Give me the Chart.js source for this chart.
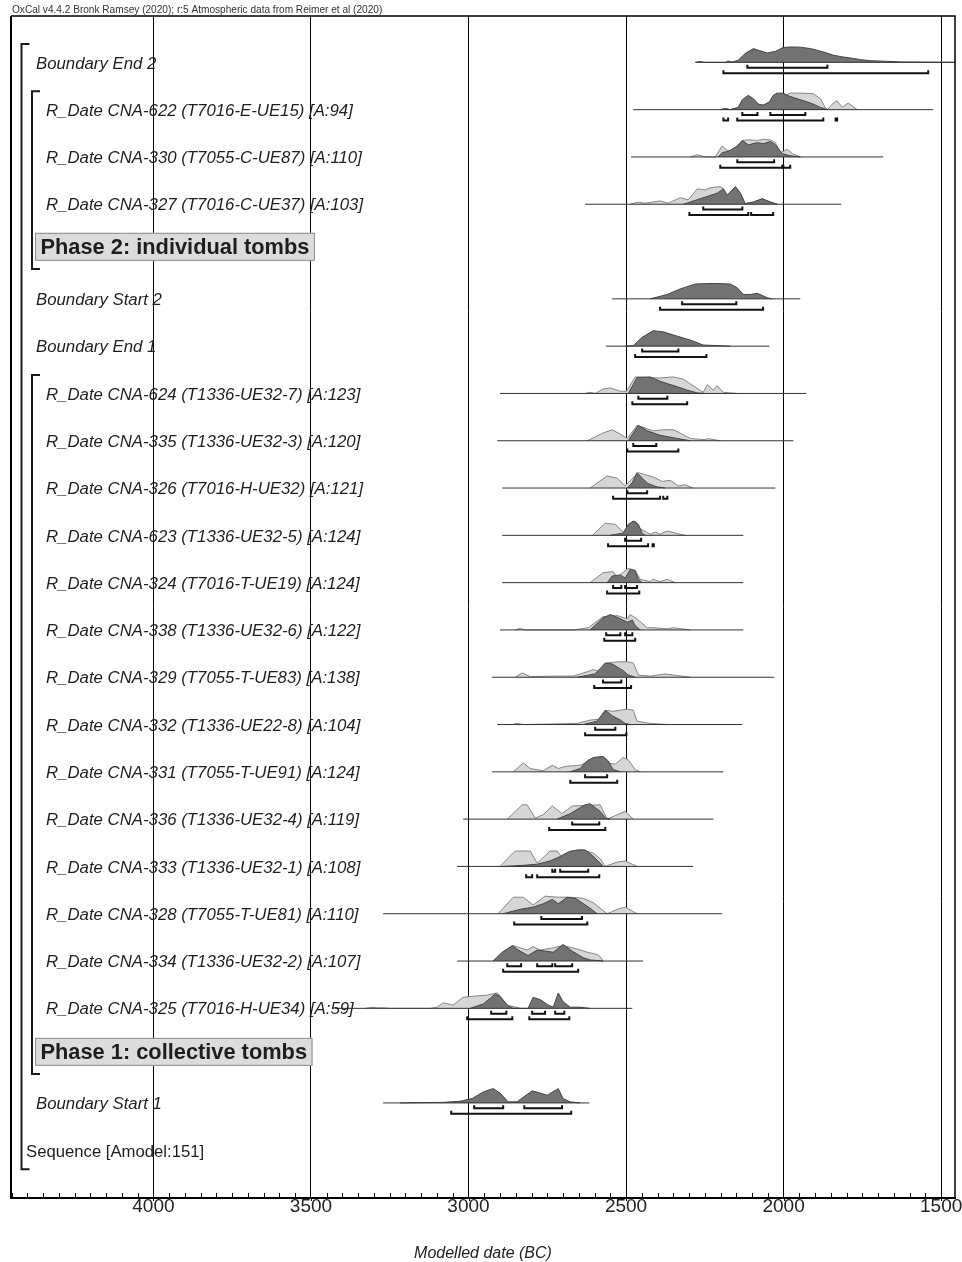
<!DOCTYPE html>
<html>
<head>
<meta charset="utf-8">
<script src="https://cdn.jsdelivr.net/npm/chart.js@4.4.1/dist/chart.umd.min.js"></script>
<style>
html,body{margin:0;padding:0;background:#fff;}
canvas{display:block;}
</style>
</head>
<body>
<canvas id="c" width="962" height="1262" style="width:962px;height:1262px"></canvas>
<script>
// ---------------- DATA ----------------
const headerText = 'OxCal v4.4.2 Bronk Ramsey (2020); r:5 Atmospheric data from Reimer et al (2020)';
const axisTitle = 'Modelled date (BC)';
const tickYears = [4000, 3500, 3000, 2500, 2000, 1500];
const axisRange = [1456, 4452];

const rowNames = [
  'Boundary End 2',
  'R_Date CNA-622 (T7016-E-UE15) [A:94]',
  'R_Date CNA-330 (T7055-C-UE87) [A:110]',
  'R_Date CNA-327 (T7016-C-UE37) [A:103]',
  'Phase 2: individual tombs',
  'Boundary Start 2',
  'Boundary End 1',
  'R_Date CNA-624 (T1336-UE32-7) [A:123]',
  'R_Date CNA-335 (T1336-UE32-3) [A:120]',
  'R_Date CNA-326 (T7016-H-UE32) [A:121]',
  'R_Date CNA-623 (T1336-UE32-5) [A:124]',
  'R_Date CNA-324 (T7016-T-UE19) [A:124]',
  'R_Date CNA-338 (T1336-UE32-6) [A:122]',
  'R_Date CNA-329 (T7055-T-UE83) [A:138]',
  'R_Date CNA-332 (T1336-UE22-8) [A:104]',
  'R_Date CNA-331 (T7055-T-UE91) [A:124]',
  'R_Date CNA-336 (T1336-UE32-4) [A:119]',
  'R_Date CNA-333 (T1336-UE32-1) [A:108]',
  'R_Date CNA-328 (T7055-T-UE81) [A:110]',
  'R_Date CNA-334 (T1336-UE32-2) [A:107]',
  'R_Date CNA-325 (T7016-H-UE34) [A:59]',
  'Phase 1: collective tombs',
  'Boundary Start 1',
  'Sequence [Amodel:151]'
];
// B = boundary, R = radiocarbon date, P = phase, S = sequence
const rowKinds = ['B','R','R','R','P','B','B','R','R','R','R','R','R','R','R','R','R','R','R','R','R','P','B','S'];
const rowPos = [0,1,2,3,3.9,5,6,7,8,9,10,11,12,13,14,15,16,17,18,19,20,20.92,22,23.01];

// full extent of each distribution line (years BC), null = none
const lineExtent = [
  [2280,1433],[2477,1525],[2484,1684],[2630,1817],null,[2544,1947],[2563,2045],
  [2900,1928],[2909,1969],[2893,2026],[2893,2128],[2893,2128],[2900,2128],[2925,2030],
  [2909,2131],[2925,2191],[3017,2223],[3036,2287],[3271,2195],[3036,2446],[3423,2480],
  null,[3271,2617],null
];

// posterior (modelled) distributions: [year BC, relative probability]
const posterior = [
  [[2280,0],[2265,0.7],[2249,0],[2185,0],[2176,1.2],[2163,0.3],[2144,2],[2122,8],[2096,12.5],[2080,11],[2052,8.5],[2026,10],[2001,13.5],[1972,14],[1947,13.8],[1915,12.5],[1893,11],[1868,9],[1842,6.5],[1814,5],[1788,4],[1757,2.5],[1725,1.5],[1677,1],[1630,0.4],[1445,0]],
  [[2201,0],[2185,1],[2169,0],[2144,2],[2131,9],[2112,13],[2096,10],[2080,5],[2065,4],[2045,7],[2033,13],[2020,15],[2001,15],[1988,13],[1969,11],[1947,9],[1925,7],[1906,5],[1883,2],[1861,0]],
  [[2207,0],[2195,4],[2176,5],[2147,10],[2131,15],[2112,11],[2083,13],[2065,12],[2042,14],[2026,11],[2004,3],[1979,1],[1947,0]],
  [[2318,0],[2265,5],[2211,10],[2191,14],[2179,8],[2153,16],[2137,10],[2122,0.5],[2096,2],[2068,5],[2042,2],[2020,0]],
  null,
  [[2423,0],[2369,4],[2328,9],[2280,13.5],[2223,14],[2169,13.5],[2147,10],[2128,4],[2106,4],[2083,5],[2052,1],[2036,0]],
  [[2503,0],[2477,0.5],[2449,8],[2414,14],[2382,13],[2337,9],[2296,5.5],[2255,1],[2169,0]],
  [[2493,0],[2465,14.5],[2423,15],[2392,11],[2337,6],[2306,3],[2274,0.5],[2249,0]],
  [[2493,0],[2461,14],[2433,9],[2392,5],[2337,2],[2296,0]],
  [[2496,0],[2480,5],[2465,14],[2449,9],[2430,4],[2401,1],[2376,0]],
  [[2550,0],[2509,2],[2493,10],[2477,13],[2461,10],[2449,2],[2439,0]],
  [[2560,0],[2544,6],[2518,7],[2503,4],[2487,12],[2471,11],[2461,3],[2449,0]],
  [[2614,0],[2573,11],[2550,14],[2525,11],[2496,7],[2480,9],[2471,4],[2455,0]],
  [[2655,0],[2598,3],[2566,13],[2544,12],[2509,6],[2493,2],[2471,0]],
  [[2636,0],[2592,3],[2566,13],[2544,8],[2518,4],[2503,1],[2487,0]],
  [[2677,0],[2646,3],[2623,10],[2604,13],[2573,14],[2557,10],[2541,2],[2518,0]],
  [[2719,0],[2677,5],[2630,13],[2614,14],[2582,7],[2566,1],[2550,0]],
  [[2890,0],[2826,1],[2782,2],[2741,5],[2709,9],[2684,13],[2655,15],[2630,15],[2607,10],[2582,3],[2573,0]],
  [[2890,0],[2836,4],[2795,6],[2763,9],[2734,13],[2715,9],[2687,15],[2661,14],[2614,5],[2592,0]],
  [[2922,0],[2893,8],[2861,14],[2842,10],[2811,5],[2782,10],[2757,9],[2731,8],[2700,15],[2671,9],[2636,3],[2614,1],[2573,0]],
  [[2995,0],[2953,4],[2915,13],[2900,11],[2874,2],[2858,0],[2811,0],[2795,10],[2773,8],[2747,3],[2731,1],[2715,14],[2700,6],[2677,1],[2646,1],[2614,0]],
  null,
  [[3217,0],[3080,0.5],[3027,1.5],[2988,4],[2953,10],[2922,13],[2900,9],[2874,1],[2846,1],[2798,11],[2773,9],[2750,7],[2715,13],[2700,4],[2677,1],[2646,0]],
  null
];

// prior (unmodelled) distributions: [year BC, relative probability]
const prior = [
  null,
  [[2201,0],[2185,1],[2169,0],[2144,2],[2131,8],[2112,11],[2096,9],[2080,5],[2065,4],[2045,7],[2033,12],[2020,14],[2001,12],[1979,15],[1947,15],[1906,14.5],[1883,10],[1868,2],[1861,0],[1842,6],[1830,8],[1814,2],[1795,6],[1766,0]],
  [[2296,0],[2274,2],[2249,0],[2217,0],[2195,10],[2179,6],[2163,5],[2147,10],[2131,15],[2112,15.5],[2083,15],[2065,16],[2042,15.5],[2026,13],[2010,4],[2001,5],[1988,7],[1972,3],[1947,0]],
  [[2487,0],[2461,2],[2439,1],[2392,3],[2366,1],[2328,6],[2303,4],[2274,14],[2249,13],[2233,15],[2201,16],[2191,14],[2179,8],[2153,16],[2137,10],[2122,0.5],[2096,2],[2068,5],[2042,2],[2020,0]],
  null, null, null,
  [[2630,0],[2614,1],[2598,0],[2573,4],[2550,5],[2518,2],[2499,2],[2471,15],[2392,14],[2350,15],[2318,13],[2287,7],[2255,1],[2242,8],[2223,3],[2211,7],[2191,1],[2147,0]],
  [[2623,0],[2573,7],[2544,10],[2518,6],[2496,2],[2465,14],[2414,9],[2382,10],[2350,10],[2328,7],[2296,2],[2249,1],[2242,2],[2201,0]],
  [[2614,0],[2560,11],[2528,9],[2503,2],[2461,14],[2414,10],[2385,6],[2360,7],[2334,2],[2312,3],[2287,0]],
  [[2607,0],[2566,11],[2534,10],[2509,3],[2480,11],[2471,13],[2455,6],[2423,1],[2407,3],[2392,1],[2369,4],[2328,1],[2312,0]],
  [[2614,0],[2573,9],[2541,10],[2528,5],[2493,13],[2471,11],[2455,3],[2423,1],[2414,3],[2392,1],[2369,3],[2344,0]],
  [[2852,0],[2836,1.5],[2820,0],[2668,0],[2620,2],[2573,12],[2528,13],[2496,10],[2487,14],[2465,10],[2433,2],[2414,2],[2369,1],[2350,2],[2296,0]],
  [[2852,0],[2830,4],[2804,0.5],[2741,1],[2668,1],[2623,5],[2604,7],[2582,5],[2560,13],[2525,14],[2496,14],[2477,13],[2461,2],[2423,1],[2376,3],[2350,2],[2296,0]],
  [[2861,0],[2846,1],[2826,0],[2655,1],[2614,4],[2582,5],[2566,13],[2541,12],[2496,14],[2477,13],[2465,3],[2423,1],[2360,0]],
  [[2858,0],[2826,8],[2804,3],[2763,1],[2734,6],[2715,3],[2693,5],[2646,6],[2614,10],[2534,7],[2509,13],[2493,11],[2471,2],[2455,0]],
  [[2877,0],[2830,13],[2814,13],[2788,1],[2763,4],[2734,12],[2703,5],[2671,12],[2582,13],[2560,0],[2528,4],[2503,7],[2477,0]],
  [[2900,0],[2852,14],[2804,14],[2782,3],[2741,14],[2719,14],[2700,7],[2677,14],[2636,15],[2604,12],[2582,7],[2566,0],[2528,4],[2503,5],[2465,0]],
  [[2906,0],[2858,15],[2826,15],[2795,8],[2757,16],[2715,15],[2677,15],[2636,14],[2604,10],[2560,0],[2528,4],[2503,6],[2465,0]],
  [[2922,0],[2858,14],[2814,10],[2795,13],[2773,10],[2731,12],[2700,14],[2655,11],[2623,8],[2592,6],[2582,4],[2573,0]],
  [[3328,0],[3303,1],[3287,0.3],[3271,0.5],[3249,0],[3122,0],[3100,1],[3080,5],[3049,3],[3017,10],[2985,11],[2941,12],[2909,14],[2877,3],[2836,0]],
  null, null, null
];

// 68.2% and 95.4% highest posterior density ranges (years BC)
const range68 = [
  [[2115,1861]],
  [[2131,2083],[2042,1931]],
  [[2147,2030]],
  [[2255,2131]],
  null,
  [[2322,2150]],
  [[2449,2334]],
  [[2461,2369]],
  [[2477,2404]],
  [[2496,2433]],
  [[2503,2452]],
  [[2541,2515],[2503,2465]],
  [[2563,2518],[2503,2480]],
  [[2573,2515]],
  [[2598,2534]],
  [[2630,2560]],
  [[2671,2585]],
  [[2734,2725],[2709,2620]],
  [[2769,2640]],
  [[2877,2833],[2782,2734],[2725,2671]],
  [[2928,2880],[2798,2757],[2725,2696]],
  null,
  [[2982,2890],[2823,2703]],
  null
];
const range95 = [
  [[2191,1541]],
  [[2191,2176],[2147,1874],[1835,1830]],
  [[2201,2004],[2001,1979]],
  [[2299,2112],[2103,2033]],
  null,
  [[2392,2065]],
  [[2471,2245]],
  [[2480,2306]],
  [[2496,2334]],
  [[2541,2392],[2382,2369]],
  [[2557,2430],[2416,2412]],
  [[2560,2458]],
  [[2569,2471]],
  [[2601,2484]],
  [[2630,2499]],
  [[2677,2528]],
  [[2744,2566]],
  [[2817,2798],[2782,2585]],
  [[2855,2623]],
  [[2890,2652]],
  [[3004,2861],[2807,2680]],
  null,
  [[3055,2674]],
  null
];

// ---------------- STYLE ----------------
const FONT = '"Liberation Sans", Arial, Helvetica, sans-serif';
const ROW_PX = 47.26;
const DENS = 1.1 / ROW_PX;
const OFF68 = 5.3 / ROW_PX, OFF95 = 10.8 / ROW_PX, TICK = 3 / ROW_PX;

// ---------------- DATASETS ----------------
const datasets = [];
rowPos.forEach((r, i) => {
  if (prior[i]) datasets.push({
    data: prior[i].map(([yr, d]) => ({x: yr, y: r - d * DENS})),
    fill: {value: r}, backgroundColor: '#d6d6d6', borderColor: '#858585',
    borderWidth: 1, pointRadius: 0, tension: 0, order: 4
  });
  if (posterior[i]) datasets.push({
    data: posterior[i].map(([yr, d]) => ({x: yr, y: r - d * DENS})),
    fill: {value: r}, backgroundColor: '#727272', borderColor: '#444',
    borderWidth: 1, pointRadius: 0, tension: 0, order: 3
  });
  if (lineExtent[i]) datasets.push({
    data: lineExtent[i].map(yr => ({x: yr, y: r})),
    fill: false, borderColor: '#333', borderWidth: 1, pointRadius: 0, order: 2
  });
  [[range68[i], OFF68], [range95[i], OFF95]].forEach(([rs, off]) => {
    if (!rs) return;
    rs.forEach(([a, b]) => datasets.push({
      data: [{x: a, y: r + off - TICK}, {x: a, y: r + off}, {x: b, y: r + off}, {x: b, y: r + off - TICK}],
      fill: false, borderColor: '#111', borderWidth: 2, pointRadius: 0, order: 1,
      borderCapStyle: 'butt', borderJoinStyle: 'miter'
    }));
  });
});

// ---------------- OVERLAY PLUGIN ----------------
const overlay = {
  id: 'overlay',
  afterDraw(chart) {
    const {ctx, chartArea: ca, scales: {x, y}} = chart;
    ctx.save();
    // frame
    ctx.strokeStyle = '#000';
    ctx.lineWidth = 2;
    ctx.beginPath();
    ctx.moveTo(ca.left, ca.bottom); ctx.lineTo(ca.left, ca.top);
    ctx.stroke();
    ctx.lineWidth = 1.5;
    ctx.beginPath();
    ctx.moveTo(ca.left, ca.top); ctx.lineTo(ca.right, ca.top); ctx.lineTo(ca.right, ca.bottom);
    ctx.stroke();
    // minor ticks & major overhang
    ctx.lineWidth = 1;
    ctx.beginPath();
    for (let v = 1500; v <= 4450; v += 50) {
      const px = Math.round(x.getPixelForValue(v)) + 0.5;
      if (px < ca.left || px > ca.right) continue;
      if (v % 500 === 0) { ctx.moveTo(px, ca.bottom); ctx.lineTo(px, ca.bottom + 3); }
      else { ctx.moveTo(px, ca.bottom - 5); ctx.lineTo(px, ca.bottom); }
    }
    ctx.stroke();
    // header
    ctx.fillStyle = '#333';
    ctx.font = '10.1px ' + FONT;
    ctx.textBaseline = 'alphabetic';
    ctx.textAlign = 'left';
    ctx.fillText(headerText, 12, 13, 372);
    // left brackets
    const bracket = (xl, t, b, w) => {
      ctx.beginPath();
      ctx.moveTo(xl + w, y.getPixelForValue(t)); ctx.lineTo(xl, y.getPixelForValue(t));
      ctx.lineTo(xl, y.getPixelForValue(b)); ctx.lineTo(xl + w, y.getPixelForValue(b));
      ctx.stroke();
    };
    ctx.strokeStyle = '#1a1a1a';
    ctx.lineWidth = 2;
    bracket(21.5, rowPos[0] - 0.39, rowPos[23] + 0.39, 8);
    bracket(32, rowPos[1] - 0.39, rowPos[4] + 0.47, 8);
    bracket(32, rowPos[7] - 0.39, rowPos[21] + 0.47, 8);
    // labels
    rowNames.forEach((name, i) => {
      const py = y.getPixelForValue(rowPos[i]);
      const k = rowKinds[i];
      ctx.textBaseline = 'middle';
      if (k === 'P') {
        ctx.font = 'bold 21.8px ' + FONT;
        const w = ctx.measureText(name).width;
        ctx.fillStyle = '#dcdcdc';
        ctx.fillRect(35, py - 14, w + 11, 28);
        ctx.strokeStyle = '#8c8c8c';
        ctx.lineWidth = 1;
        ctx.strokeRect(35.5, py - 13.5, w + 10, 27);
        ctx.fillStyle = '#1e1e1e';
        ctx.fillText(name, 40.5, py + 1);
      } else if (k === 'S') {
        ctx.font = '16.7px ' + FONT;
        ctx.fillStyle = '#1e1e1e';
        ctx.fillText(name, 26, py + 1.5);
      } else {
        ctx.font = 'italic 16.8px ' + FONT;
        ctx.fillStyle = '#1e1e1e';
        ctx.fillText(name, k === 'B' ? 36 : 46, py + 1.5);
      }
    });
    ctx.restore();
  }
};

// ---------------- CHART ----------------
new Chart(document.getElementById('c'), {
  type: 'line',
  data: {datasets},
  plugins: [overlay],
  options: {
    responsive: false, animation: false, devicePixelRatio: 1,
    layout: {padding: {left: 11, right: 7, top: 16, bottom: 0}},
    plugins: {legend: {display: false}, tooltip: {enabled: false}, title: {display: false}},
    elements: {line: {tension: 0}},
    scales: {
      x: {
        type: 'linear', reverse: true, min: axisRange[0], max: axisRange[1], position: 'bottom',
        afterBuildTicks: s => { s.ticks = tickYears.map(v => ({value: v})); },
        afterFit: s => { s.height = 64; s.paddingLeft = 0; s.paddingRight = 0; },
        ticks: {callback: v => String(v), font: {family: FONT, size: 19, lineHeight: 1}, color: '#222',
                padding: -1, maxRotation: 0, autoSkip: false},
        grid: {color: '#000', lineWidth: 1, drawTicks: false},
        border: {display: true, color: '#000', width: 2},
        title: {display: true, text: axisTitle, color: '#222',
                font: {family: FONT, size: 16, style: 'italic', lineHeight: 1}, padding: {top: 0, bottom: 0}}
      },
      y: {type: 'linear', reverse: true, min: -0.98, max: 24.01, display: false}
    }
  }
});
</script>
</body>
</html>
